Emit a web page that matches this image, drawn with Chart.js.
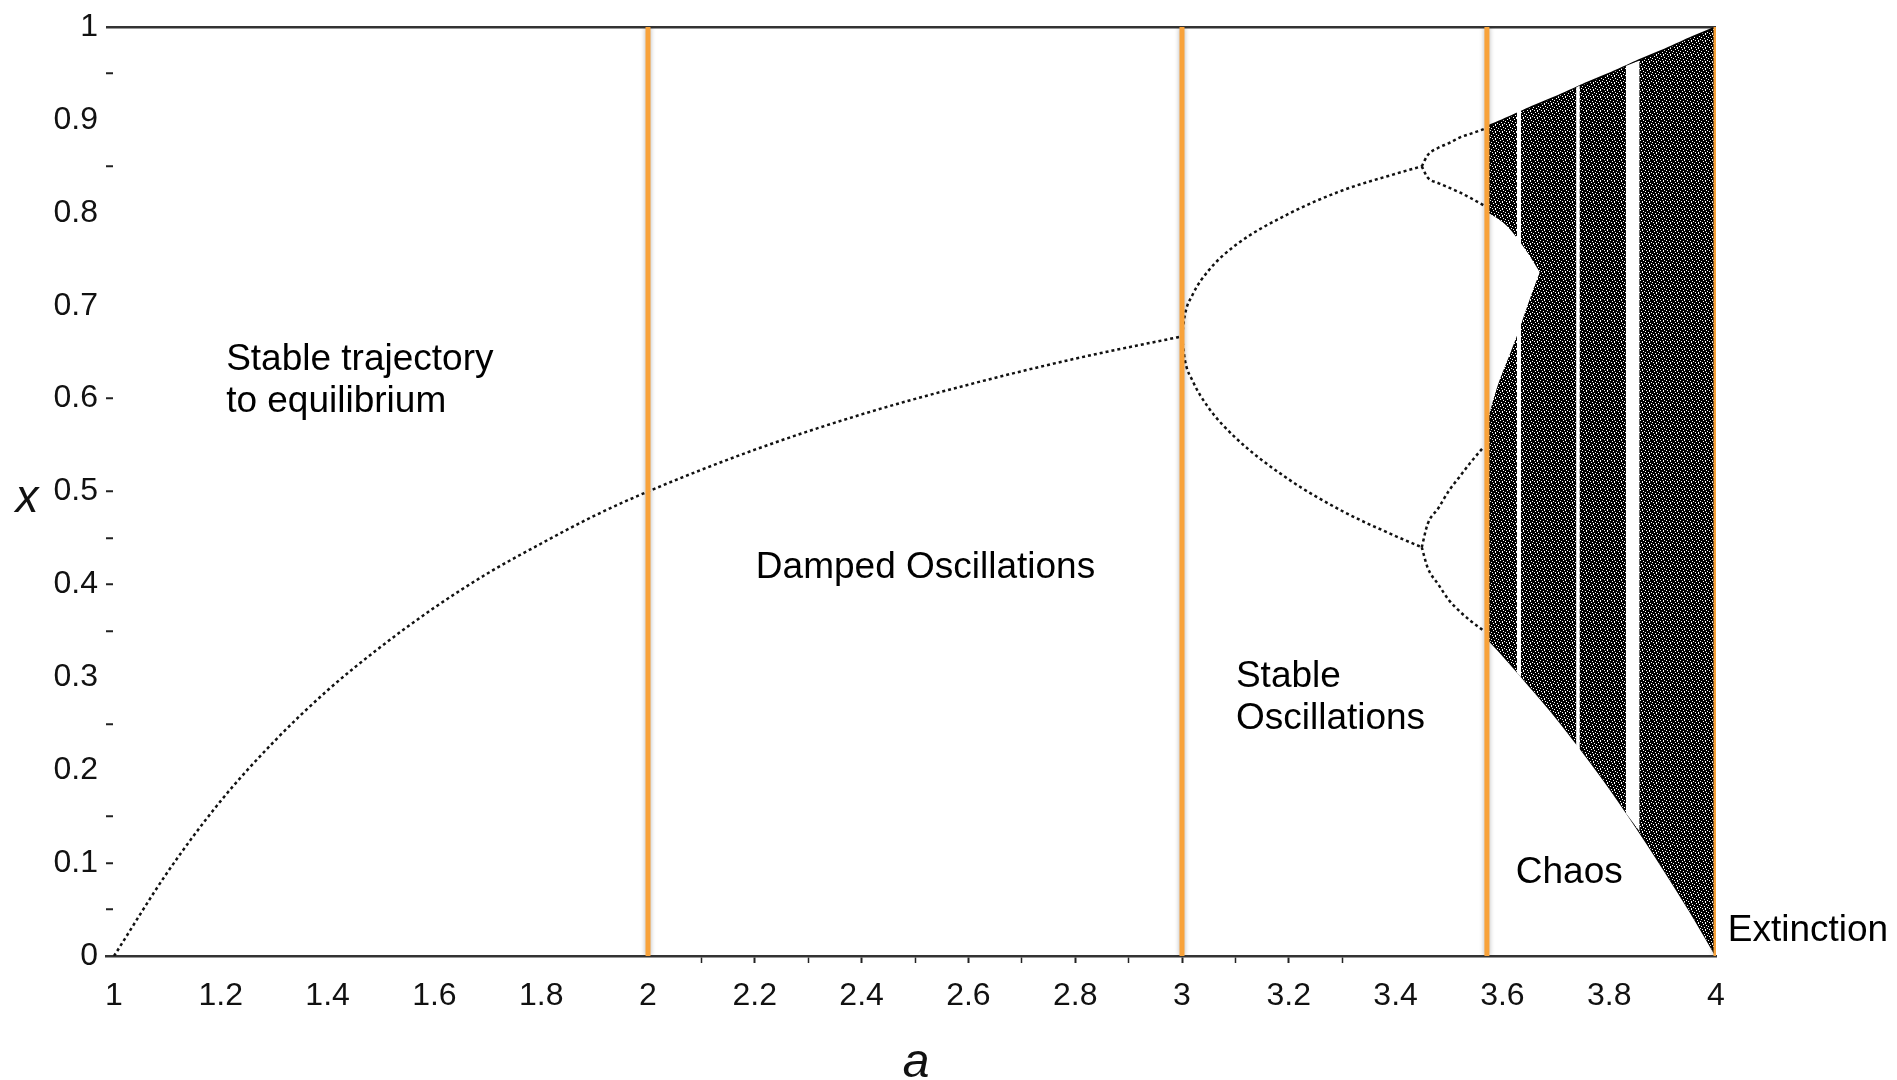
<!DOCTYPE html>
<html lang="en">
<head>
    <meta charset="UTF-8">
    <title>Logistic map - bifurcation diagram</title>
    <script src="https://cdn.jsdelivr.net/npm/chart.js"></script>
    <style>
        html, body { margin: 0; padding: 0; background: #fff; }
        #wrap { width: 1897px; height: 1080px; }
    </style>
</head>
<body>
<div id="wrap"><canvas id="chart" width="1897" height="1080"></canvas></div>
<script>
// tick values and labels
const xTickValues = [1,1.1,1.2,1.3,1.4,1.5,1.6,1.7,1.8,1.9,2,2.1,2.2,2.3,2.4,2.5,2.6,2.7,2.8,2.9,3,3.1,3.2,3.3,3.4,3.5,3.6,3.7,3.8,3.9,4];
const xTickLabels = ['1','1.2','1.4','1.6','1.8','2','2.2','2.4','2.6','2.8','3','3.2','3.4','3.6','3.8','4'];
const yTickValues = [0,0.05,0.1,0.15,0.2,0.25,0.3,0.35,0.4,0.45,0.5,0.55,0.6,0.65,0.7,0.75,0.8,0.85,0.9,0.95,1];
const yTickLabels = ['0','0.1','0.2','0.3','0.4','0.5','0.6','0.7','0.8','0.9','1'];
const yMarkedTicks = [0.05,0.1,0.15,0.25,0.35,0.4,0.45,0.5,0.6,0.85,0.95];

// fixed point branch (period 1)
const stableA = [1.0,1.1,1.2,1.3,1.4,1.5,1.6,1.7,1.8,1.9,2.0,2.2,2.4,2.6,2.8,3.0];
const stableX = [0,0.09,0.167,0.231,0.286,0.333,0.375,0.412,0.444,0.474,0.5,0.545,0.583,0.615,0.643,0.667];

// period 2
const p2A = [3.0,3.005,3.02,3.05,3.1,3.2,3.3,3.4,3.449];
const p2Upper = [0.667,0.689,0.712,0.738,0.765,0.799,0.824,0.842,0.85];
const p2Lower = [0.667,0.643,0.619,0.59,0.558,0.513,0.479,0.452,0.44];

// period 4
const p4A = [3.449,3.46,3.48,3.5,3.52,3.54,3.565];
const p4UpUp = [0.85,0.862,0.87,0.875,0.881,0.885,0.89];
const p4UpLow = [0.85,0.838,0.832,0.827,0.822,0.816,0.808];
const p4LowUp = [0.44,0.465,0.482,0.501,0.516,0.531,0.548];
const p4LowLow = [0.44,0.418,0.4,0.383,0.371,0.361,0.35];

// chaotic band envelope
const chaosA = [3.571,3.6,3.65,3.7,3.75,3.8,3.85,3.9,3.95,4.0];
const chaosTop = [0.893,0.9,0.913,0.925,0.938,0.95,0.963,0.975,0.988,1.0];
const chaosBottom = [0.342,0.324,0.291,0.257,0.22,0.181,0.139,0.095,0.049,0];

// empty wedge between the two bands
const gapTopA = [3.571,3.608,3.646,3.67];
const gapTopX = [0.801,0.786,0.758,0.736];
const gapBottomA = [3.571,3.59,3.61,3.63,3.655,3.67];
const gapBottomX = [0.574,0.612,0.642,0.672,0.713,0.736];

// periodic windows
const windowsA = [[3.627,3.635],[3.738,3.745],[3.831,3.857]];
const windowsTop = [[0.91,0.912],[0.935,0.937],[0.958,0.964]];
const windowsBottom = [[0.305,0.3],[0.22,0.215],[0.154,0.134]];

// regime boundaries
const boundaries = [2, 3, 3.571, 4];

// region texts
const regionNames = [['Stable trajectory','to equilibrium'],['Damped Oscillations'],['Stable','Oscillations'],['Chaos'],['Extinction']];
const regionA = [1.21, 2.202, 3.101, 3.625, 4.022];
const regionX = [0.631, 0.407, 0.290, 0.079, 0.016];

const FONT = '"Liberation Sans", Arial, Helvetica, sans-serif';
Chart.defaults.font.family = FONT;

function pts(as, xs) {
    return as.map((a, i) => ({ x: a, y: xs[i] }));
}

function speckle() {
    const rows = ['##.####', '#####.#', '.######', '###.###', '######.', '#.##.##', '####.##'];
    const c = document.createElement('canvas');
    c.width = 7; c.height = 7;
    const g = c.getContext('2d');
    rows.forEach((r, j) => [...r].forEach((ch, i) => {
        g.fillStyle = ch === '#' ? '#000' : '#fff';
        g.fillRect(i, j, 1, 1);
    }));
    return g.createPattern(c, 'repeat');
}

const area = { pointRadius: 0, cubicInterpolationMode: 'monotone' };
const dotted = { pointRadius: 0, fill: false, borderColor: '#111', borderWidth: 2.5, borderDash: [3, 3], cubicInterpolationMode: 'monotone', order: 5 };

const datasets = [
    { ...area, data: pts(chaosA, chaosTop), fill: '+1', backgroundColor: speckle(), borderColor: '#000', borderWidth: 1.5, order: 10 },
    { ...area, data: pts(chaosA, chaosBottom), fill: false, borderColor: '#000', borderWidth: 1.5, order: 10 },
    { ...area, data: pts(gapTopA, gapTopX), fill: '+1', backgroundColor: '#fff', borderColor: 'transparent', borderWidth: 1, order: 9 },
    { ...area, data: pts(gapBottomA, gapBottomX), fill: false, borderColor: 'transparent', borderWidth: 1, order: 9 }
];
windowsA.forEach((w, i) => {
    datasets.push({ pointRadius: 0, data: pts(w, windowsTop[i]), fill: '+1', backgroundColor: '#fff', borderColor: 'transparent', borderWidth: 1, order: 8 });
    datasets.push({ pointRadius: 0, data: pts(w, windowsBottom[i]), fill: false, borderColor: 'transparent', borderWidth: 1, order: 8 });
});
[ [stableA, stableX], [p2A, p2Upper], [p2A, p2Lower],
  [p4A, p4UpUp], [p4A, p4UpLow], [p4A, p4LowUp], [p4A, p4LowLow] ].forEach(s => {
    datasets.push({ ...dotted, data: pts(s[0], s[1]) });
});
boundaries.forEach(b => {
    datasets.push({ marker: true, data: [{ x: b, y: 0 }, { x: b, y: 1 }], pointRadius: 0, fill: false,
        borderColor: '#F8A23A', borderWidth: 5, borderCapStyle: 'butt', order: 1 });
});

const markerShadow = {
    id: 'markerShadow',
    beforeDatasetDraw(chart, args) {
        if (!chart.data.datasets[args.index].marker) return;
        const c = chart.ctx;
        c.save();
        c.shadowColor = 'rgba(0,0,0,0.3)';
        c.shadowBlur = 5;
    },
    afterDatasetDraw(chart, args) {
        if (chart.data.datasets[args.index].marker) chart.ctx.restore();
    }
};

const regionText = {
    id: 'regionText',
    afterDraw(chart) {
        const { ctx, scales: { x, y } } = chart;
        ctx.save();
        ctx.fillStyle = '#000';
        ctx.font = '37px ' + FONT;
        ctx.textAlign = 'left';
        ctx.textBaseline = 'alphabetic';
        regionNames.forEach((lines, i) => {
            const px = x.getPixelForValue(regionA[i]);
            const py = y.getPixelForValue(regionX[i]);
            lines.forEach((t, j) => ctx.fillText(t, px, py + j * 42));
        });
        // axis names
        ctx.fillStyle = '#111';
        ctx.textAlign = 'center';
        ctx.font = 'italic 46px ' + FONT;
        ctx.fillText('x', 27, y.getPixelForValue(0.5) + 20);
        ctx.font = 'italic 48px ' + FONT;
        ctx.fillText('a', 916, 1077);
        ctx.restore();
    }
};

const near = (v, list) => list.some(t => Math.abs(t - v) < 1e-6);

new Chart(document.getElementById('chart'), {
    type: 'line',
    data: { datasets },
    plugins: [markerShadow, regionText],
    options: {
        responsive: false,
        animation: false,
        events: [],
        layout: { padding: { top: 27, right: 181, bottom: 0, left: 0 } },
        plugins: { legend: { display: false }, tooltip: { enabled: false } },
        scales: {
            x: {
                type: 'linear',
                min: 0.985,
                max: 4,
                afterBuildTicks: s => { s.ticks = xTickValues.map(v => ({ value: v })); },
                afterFit: s => { s.height = 124; },
                ticks: {
                    autoSkip: false,
                    maxRotation: 0,
                    padding: 14,
                    color: '#111',
                    font: { size: 32 },
                    callback: v => {
                        const l = String(Math.round(v * 10) / 10);
                        return xTickLabels.includes(l) ? l : '';
                    }
                },
                grid: {
                    drawOnChartArea: false,
                    tickLength: 7,
                    tickColor: c => (c.tick && c.tick.value > 2.05 && c.tick.value < 3.35) ? '#222' : 'transparent',
                    tickWidth: c => (c.tick && Math.round(c.tick.value * 10) % 2 === 0) ? 2 : 1.5
                },
                border: { color: '#333', width: 2.5 }
            },
            y: {
                type: 'linear',
                min: 0,
                max: 1,
                afterBuildTicks: s => { s.ticks = yTickValues.map(v => ({ value: v })); },
                afterFit: s => { s.width = 106; s.paddingTop = 0; s.paddingBottom = 0; },
                ticks: {
                    autoSkip: false,
                    padding: 15,
                    color: '#111',
                    font: { size: 32 },
                    callback: v => {
                        const l = String(Math.round(v * 100) / 100);
                        return yTickLabels.includes(l) ? l : '';
                    }
                },
                grid: {
                    drawOnChartArea: true,
                    tickLength: -7,
                    color: c => (c.tick && c.tick.value === 1) ? '#333' : 'transparent',
                    lineWidth: 2.5,
                    tickColor: c => (c.tick && near(c.tick.value, yMarkedTicks)) ? '#222' : 'transparent',
                    tickWidth: 2
                },
                border: { display: false }
            }
        }
    }
});
</script>
</body>
</html>
